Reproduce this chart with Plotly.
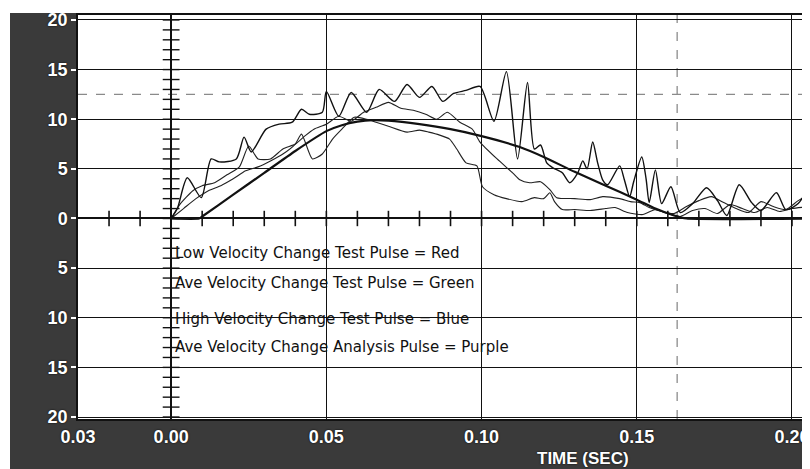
import numpy as np
import plotly.graph_objects as go

# ---------------- data ----------------
high_t = [0, 0.002, 0.0052, 0.0097, 0.0129, 0.0155, 0.021, 0.0235, 0.0258, 0.0306,
          0.0348, 0.039, 0.042, 0.0445, 0.0487, 0.050, 0.054, 0.058, 0.063, 0.067,
          0.072, 0.076, 0.080, 0.084, 0.0875, 0.091, 0.095, 0.0995, 0.104, 0.108,
          0.1116, 0.1148, 0.117, 0.119, 0.121, 0.123, 0.126, 0.1284, 0.131, 0.1326,
          0.134, 0.1358, 0.1374, 0.139, 0.1406, 0.1445, 0.146, 0.1477, 0.149, 0.1516,
          0.153, 0.154, 0.156, 0.158, 0.161, 0.164, 0.168, 0.1725, 0.176, 0.179,
          0.183, 0.187, 0.190, 0.195, 0.198, 0.202, 0.206]
high_v = [0, 1.0, 4.1, 2.1, 6.0, 5.7, 6.0, 8.2, 6.7, 9.0,
          9.5, 9.7, 11.0, 10.5, 10.7, 12.8, 10.3, 12.7, 10.7, 13.0,
          11.8, 13.5, 12.2, 13.3, 11.8, 12.6, 12.9, 13.3, 9.8, 14.8,
          6.0, 13.7, 7.0, 7.4, 5.6, 5.1, 4.6, 3.6, 4.6, 5.8,
          5.0, 7.7, 5.6, 3.9, 3.4, 5.3, 3.9, 2.2, 3.7, 6.2,
          4.0, 1.6, 4.9, 1.5, 3.2, 0.6, 1.5, 3.1, 1.8, 0.3,
          3.4, 1.6, 0.8, 2.6, 0.9, 1.5, 3.6]

ave_t = [0, 0.003, 0.007, 0.010, 0.014, 0.018, 0.022, 0.025, 0.028, 0.032,
         0.036, 0.040, 0.043, 0.046, 0.050, 0.054, 0.058, 0.062, 0.066, 0.070,
         0.074, 0.078, 0.082, 0.0855, 0.089, 0.093, 0.097, 0.0995, 0.105, 0.110,
         0.1123, 0.1155, 0.119, 0.122, 0.1242, 0.130, 0.135, 0.139, 0.1445, 0.148,
         0.151, 0.154, 0.158, 0.162, 0.166, 0.170, 0.174, 0.178, 0.182, 0.186,
         0.190, 0.194, 0.198, 0.202, 0.206]
ave_v = [0, 1.5, 2.8, 3.3, 3.6, 4.4, 5.2, 7.3, 6.0, 6.0,
         7.0, 7.5, 8.3, 9.0, 9.5, 10.3, 9.8, 10.7, 11.2, 11.7,
         11.1, 10.9, 10.5, 10.0, 10.7, 9.7, 9.0, 7.7, 6.0, 4.6,
         3.9, 3.6, 3.7, 2.9, 2.1, 2.0, 1.9, 2.2, 2.0, 1.7,
         1.6, 1.1, 0.7, 0.5, 1.2, 1.8, 2.2, 1.6, 1.0, 0.6,
         1.7, 1.2, 0.9, 1.8, 2.5]

low_t = [0, 0.004, 0.008, 0.012, 0.016, 0.020, 0.024, 0.028, 0.032, 0.036,
         0.040, 0.042, 0.0455, 0.0487, 0.052, 0.055, 0.059, 0.063, 0.066, 0.070,
         0.076, 0.080, 0.083, 0.0865, 0.0897, 0.092, 0.095, 0.0985, 0.1003, 0.104,
         0.108, 0.113, 0.117, 0.120, 0.122, 0.1235, 0.126, 0.130, 0.135, 0.140,
         0.143, 0.147, 0.152, 0.156, 0.160, 0.164, 0.168, 0.172, 0.176, 0.180,
         0.184, 0.188, 0.192, 0.196, 0.200, 0.206]
low_v = [0, 1.0, 2.0, 2.8, 3.3, 4.0, 4.8, 5.2, 5.8, 6.5,
         7.5, 8.5, 6.0, 6.5, 8.0, 9.0, 10.2, 10.0, 9.7, 9.3,
         8.7, 8.9, 8.7, 8.4, 8.0, 7.0, 5.6, 5.3, 3.2, 2.4,
         2.0, 1.7, 2.1, 2.0, 2.6, 1.7, 0.9, 0.9, 0.8, 1.0,
         1.1, 0.6, 0.4, 0.9, 0.5, 0.2, 0.8, 1.0, 0.5, 1.4,
         1.0, 0.6, 1.1, 0.7, 1.0, 1.2]

analysis_t = [0, 0.009, 0.010, 0.02, 0.03, 0.04, 0.05, 0.055, 0.06, 0.065, 0.07,
              0.08, 0.09, 0.10, 0.1123, 0.12, 0.13, 0.14, 0.15, 0.156, 0.162,
              0.166, 0.206]
analysis_v = [0, 0, 0.2, 2.4, 4.6, 6.8, 8.8, 9.4, 9.75, 9.9, 9.85,
              9.5, 9.0, 8.3, 7.2, 6.2, 4.7, 3.3, 1.9, 1.0, 0.3,
              0, 0]

legend_labels = ["Low Velocity Change Test Pulse = Red",
                 "Ave Velocity Change Test Pulse = Green",
                 "High Velocity Change Test Pulse = Blue",
                 "Ave Velocity Change Analysis Pulse = Purple"]
legend_rows = [-3.5, -6.5, -10.1, -12.9]

x_tickvals = [-0.03, 0.0, 0.05, 0.10, 0.15, 0.20]
x_ticktext = ["0.03", "0.00", "0.05", "0.10", "0.15", "0.20"]
y_tickvals = [20, 15, 10, 5, 0, -5, -10, -15, -20]
y_ticktext = ["20", "15", "10", "5", "0", "5", "10", "15", "20"]
x_title = "TIME (SEC)"

# ---------------- figure ----------------
fig = go.Figure()

ink = "#111111"
fig.add_trace(go.Scatter(x=low_t, y=low_v, mode="lines", name="Low",
                         line=dict(color="#222222", width=1.1, shape="spline", smoothing=0.6)))
fig.add_trace(go.Scatter(x=ave_t, y=ave_v, mode="lines", name="Ave",
                         line=dict(color="#222222", width=1.1, shape="spline", smoothing=0.6)))
fig.add_trace(go.Scatter(x=high_t, y=high_v, mode="lines", name="High",
                         line=dict(color=ink, width=1.4, shape="spline", smoothing=0.7)))
fig.add_trace(go.Scatter(x=analysis_t, y=analysis_v, mode="lines", name="Analysis",
                         line=dict(color=ink, width=2.2, shape="spline", smoothing=0.5)))

# cross ticks on the zero axes
xt = np.round(np.arange(-0.02, 0.21, 0.01), 3)
yt = np.arange(-20, 21, 1)
fig.add_trace(go.Scatter(x=xt, y=np.zeros_like(xt), mode="markers", hoverinfo="skip",
                         marker=dict(symbol="line-ns-open", size=11, color=ink,
                                     line=dict(color=ink, width=1.6))))
fig.add_trace(go.Scatter(x=np.zeros_like(yt, dtype=float), y=yt, mode="markers", hoverinfo="skip",
                         marker=dict(symbol="line-ew-open", size=12, color=ink,
                                     line=dict(color=ink, width=1.4))))

label_font = dict(family="Liberation Sans", size=18, color="white", weight="bold",
                  shadow="0px 0px 2px black")

for txt, row in zip(legend_labels, legend_rows):
    fig.add_annotation(x=0.0005, y=row, xref="x", yref="y", text=txt,
                       showarrow=False, xanchor="left", yanchor="middle",
                       font=dict(family="DejaVu Sans", size=15, color="#111111"))

fig.add_annotation(x=0.1326, y=-0.098, xref="x", yref="paper", text=x_title,
                   showarrow=False, xanchor="center", yanchor="middle",
                   font=dict(family="Liberation Sans", size=17, color="white", weight="bold",
                             shadow="0px 0px 2px black"))

# faint dashed scan grid lines
fig.add_shape(type="line", xref="x", yref="y", x0=-0.03, x1=0.206, y0=12.5, y1=12.5,
              line=dict(color="#8a8a8a", width=1.1, dash="dash"), layer="below")
fig.add_shape(type="line", xref="x", yref="paper", x0=0.163, x1=0.163, y0=0, y1=1,
              line=dict(color="#777777", width=1.1, dash="dash"), layer="below")

# white paper strips outside the dark frame
fig.add_shape(type="rect", xref="paper", yref="paper", x0=-0.2, x1=1.1, y0=1.0 + 2 / 404, y1=1.2,
              fillcolor="white", line=dict(width=0), layer="above")
fig.add_shape(type="rect", xref="paper", yref="paper", x0=-0.2, x1=-68 / 732, y0=-0.2, y1=1.2,
              fillcolor="white", line=dict(width=0), layer="above")

# page body has an 8px margin: figure is 802x461 so it ends at the window edge
fig.update_layout(
    width=802, height=461,
    margin=dict(l=70, r=0, t=7, b=50),
    paper_bgcolor="#3a3a3a",
    plot_bgcolor="white",
    showlegend=False,
    xaxis=dict(range=[-0.03, 0.2058], tickvals=x_tickvals, ticktext=x_ticktext,
               showgrid=True, gridcolor=ink, gridwidth=1.4,
               zeroline=True, zerolinecolor=ink, zerolinewidth=2,
               showline=True, linecolor=ink, linewidth=2, mirror=True,
               ticks="", tickfont=label_font, fixedrange=True),
    yaxis=dict(range=[-20.2, 20.5], tickvals=y_tickvals, ticktext=y_ticktext,
               showgrid=True, gridcolor=ink, gridwidth=1.4,
               zeroline=True, zerolinecolor=ink, zerolinewidth=2,
               showline=True, linecolor=ink, linewidth=1.5,
               ticks="outside", ticklen=5, tickcolor="white", tickwidth=2,
               tickfont=label_font, fixedrange=True),
)

fig.write_html("out.html")
